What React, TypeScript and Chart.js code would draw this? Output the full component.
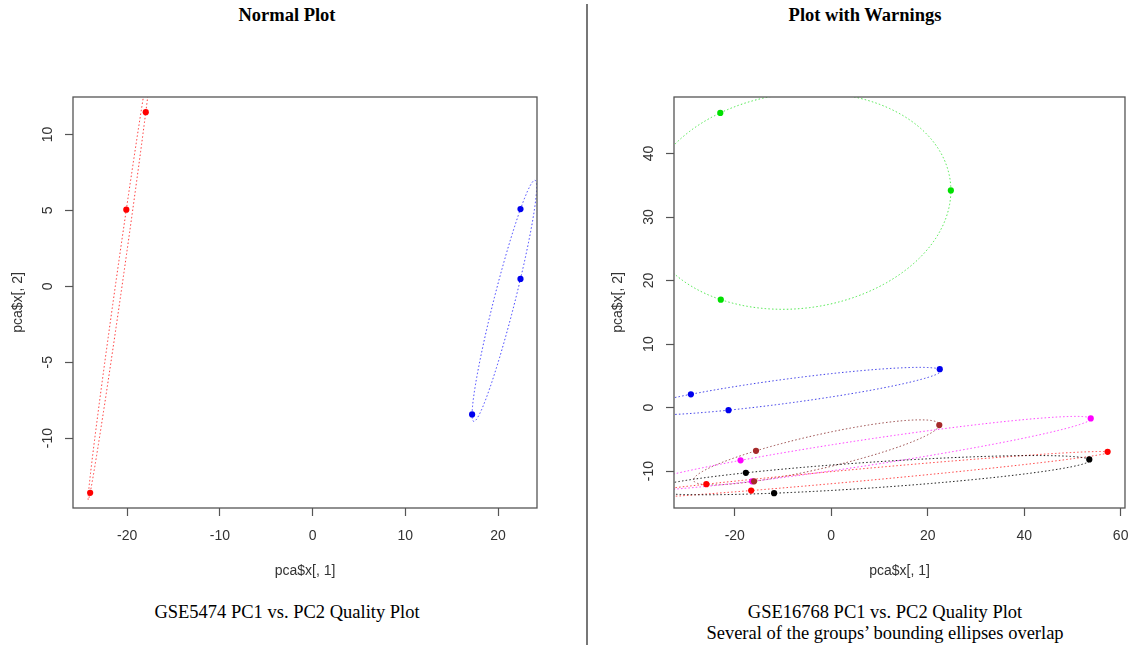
import React, { useEffect, useRef } from "react";
import { Chart, registerables } from "chart.js";

Chart.register(...registerables);

// ---------------- Left panel: GSE5474 ----------------
const leftRedPC1 = [-24.0, -20.1, -18.0];
const leftRedPC2 = [-13.6, 5.05, 11.47];
const leftBluePC1 = [17.2, 22.42, 22.42];
const leftBluePC2 = [-8.44, 5.09, 0.49];
const leftXTicks = [-20, -10, 0, 10, 20];
const leftYTicks = [-10, -5, 0, 5, 10];
const leftXRange = [-25.85, 24.2];
const leftYRange = [-14.6, 12.47];

// ---------------- Right panel: GSE16768 ----------------
const greenPC1 = [-23.0, 24.8, -22.9];
const greenPC2 = [46.4, 34.2, 17.0];
const bluePC1 = [-29.1, -21.3, 22.5];
const bluePC2 = [2.1, -0.4, 6.05];
const brownPC1 = [-15.6, 22.4, -16.0];
const brownPC2 = [-6.8, -2.74, -11.6];
const magentaPC1 = [-18.8, 53.8, -16.4];
const magentaPC2 = [-8.3, -1.7, -11.6];
const redPC1 = [-25.9, -16.6, 57.3];
const redPC2 = [-12.05, -13.05, -6.95];
const blackPC1 = [-17.7, -11.85, 53.5];
const blackPC2 = [-10.26, -13.47, -8.16];
const rightXTicks = [-20, 0, 20, 40, 60];
const rightYTicks = [-10, 0, 10, 20, 30, 40];
const rightXRange = [-32.6, 60.9];
const rightYRange = [-15.8, 48.9];

const xTitle = "pca$x[, 1]";
const yTitle = "pca$x[, 2]";

const SANS = "'Liberation Sans', Arial, Helvetica, sans-serif";
const SERIF = "'Liberation Serif', 'Times New Roman', Times, serif";

const pts = (xs: number[], ys: number[]) => xs.map((x, i) => ({ x, y: ys[i] }));

function ds(xs: number[], ys: number[], color: string, ellipseColor: string) {
  return {
    data: pts(xs, ys),
    pointRadius: 3.1,
    pointHoverRadius: 3.1,
    pointBackgroundColor: color,
    pointBorderColor: color,
    pointBorderWidth: 0,
    showLine: false,
    ellipseColor,
  } as any;
}

// Ellipse through each group's three points (circumscribed ellipse centred on the centroid)
const ellipsePlugin = {
  id: "groupEllipses",
  beforeDatasetsDraw(chart: any) {
    const { ctx, chartArea, scales } = chart;
    const xs = scales.x;
    const ys = scales.y;
    ctx.save();
    ctx.beginPath();
    ctx.rect(chartArea.left, chartArea.top, chartArea.right - chartArea.left, chartArea.bottom - chartArea.top);
    ctx.clip();
    chart.data.datasets.forEach((d: any) => {
      const p = d.data;
      if (!p || p.length < 3) return;
      const gx = (p[0].x + p[1].x + p[2].x) / 3;
      const gy = (p[0].y + p[1].y + p[2].y) / 3;
      const ux = p[0].x - gx;
      const uy = p[0].y - gy;
      const vx = (p[1].x - p[2].x) / Math.sqrt(3);
      const vy = (p[1].y - p[2].y) / Math.sqrt(3);
      ctx.beginPath();
      for (let i = 0; i <= 720; i++) {
        const t = (i / 720) * Math.PI * 2;
        const X = xs.getPixelForValue(gx + ux * Math.cos(t) + vx * Math.sin(t));
        const Y = ys.getPixelForValue(gy + uy * Math.cos(t) + vy * Math.sin(t));
        if (i === 0) ctx.moveTo(X, Y);
        else ctx.lineTo(X, Y);
      }
      ctx.closePath();
      ctx.setLineDash([1.5, 2.2]);
      ctx.lineWidth = 1;
      ctx.strokeStyle = d.ellipseColor;
      ctx.stroke();
    });
    ctx.restore();
  },
};

const boxPlugin = {
  id: "plotBox",
  afterDraw(chart: any) {
    const { ctx, chartArea } = chart;
    ctx.save();
    ctx.strokeStyle = "#555";
    ctx.lineWidth = 1.3;
    ctx.setLineDash([]);
    ctx.strokeRect(chartArea.left, chartArea.top, chartArea.right - chartArea.left, chartArea.bottom - chartArea.top);
    ctx.restore();
  },
};

interface PanelSpec {
  datasets: any[];
  xRange: number[];
  yRange: number[];
  xTicks: number[];
  yTicks: number[];
  canvasW: number;
  canvasH: number;
  areaLeft: number;
  areaRight: number;
  areaTop: number;
  areaBottom: number;
  yTitlePad: number;
}

function buildConfig(s: PanelSpec): any {
  const tickFont = { family: SANS, size: 14 };
  return {
    type: "scatter",
    data: { datasets: s.datasets },
    options: {
      responsive: false,
      animation: false,
      devicePixelRatio: 1,
      layout: {
        padding: { left: 0, top: s.areaTop, right: s.canvasW - s.areaRight, bottom: 0 },
      },
      plugins: { legend: { display: false }, tooltip: { enabled: false } },
      events: [],
      scales: {
        x: {
          type: "linear",
          position: "bottom",
          min: s.xRange[0],
          max: s.xRange[1],
          afterBuildTicks: (sc: any) => {
            sc.ticks = s.xTicks.map((v) => ({ value: v }));
          },
          afterFit: (sc: any) => {
            sc.height = s.canvasH - s.areaBottom;
          },
          border: { display: false },
          grid: {
            display: true,
            drawOnChartArea: false,
            drawTicks: true,
            tickLength: 8,
            tickColor: "#555",
            tickWidth: 1.2,
          },
          ticks: {
            autoSkip: false,
            maxRotation: 0,
            minRotation: 0,
            padding: 11.5,
            font: tickFont,
            color: "#333",
          },
          title: {
            display: true,
            text: xTitle,
            font: tickFont,
            color: "#333",
            padding: { top: 0, bottom: 20.6 },
          },
        },
        y: {
          type: "linear",
          position: "left",
          min: s.yRange[0],
          max: s.yRange[1],
          afterBuildTicks: (sc: any) => {
            sc.ticks = s.yTicks.map((v) => ({ value: v }));
          },
          afterFit: (sc: any) => {
            sc.width = s.areaLeft;
          },
          border: { display: false },
          grid: {
            display: true,
            drawOnChartArea: false,
            drawTicks: true,
            tickLength: 8,
            tickColor: "#555",
            tickWidth: 1.2,
          },
          ticks: {
            autoSkip: false,
            minRotation: 90,
            maxRotation: 90,
            crossAlign: "center",
            padding: 7,
            font: tickFont,
            color: "#333",
          },
          title: {
            display: true,
            text: yTitle,
            font: tickFont,
            color: "#333",
            padding: { top: s.yTitlePad, bottom: 0 },
          },
        },
      },
    },
    plugins: [ellipsePlugin, boxPlugin],
  };
}

const LEFT_CANVAS = { x: 0, w: 587, h: 600 };
const RIGHT_CANVAS = { x: 589, w: 551, h: 600 };

export default function App() {
  const leftRef = useRef<HTMLCanvasElement>(null);
  const rightRef = useRef<HTMLCanvasElement>(null);

  useEffect(() => {
    const left = new Chart(
      leftRef.current as HTMLCanvasElement,
      buildConfig({
        datasets: [
          ds(leftRedPC1, leftRedPC2, "#ff0000", "rgba(255,40,40,0.9)"),
          ds(leftBluePC1, leftBluePC2, "#0000ee", "rgba(40,40,255,0.9)"),
        ],
        xRange: leftXRange,
        yRange: leftYRange,
        xTicks: leftXTicks,
        yTicks: leftYTicks,
        canvasW: LEFT_CANVAS.w,
        canvasH: LEFT_CANVAS.h,
        areaLeft: 73,
        areaRight: 537,
        areaTop: 97,
        areaBottom: 508,
        yTitlePad: 9.6,
      })
    );
    const right = new Chart(
      rightRef.current as HTMLCanvasElement,
      buildConfig({
        datasets: [
          ds(greenPC1, greenPC2, "#00e000", "rgba(60,230,60,0.9)"),
          ds(bluePC1, bluePC2, "#0000ee", "rgba(40,40,230,0.9)"),
          ds(brownPC1, brownPC2, "#a52a2a", "rgba(140,50,50,0.9)"),
          ds(magentaPC1, magentaPC2, "#ff00ff", "rgba(255,40,255,0.9)"),
          ds(redPC1, redPC2, "#ff0000", "rgba(255,50,50,0.9)"),
          ds(blackPC1, blackPC2, "#000000", "rgba(0,0,0,0.9)"),
        ],
        xRange: rightXRange,
        yRange: rightYRange,
        xTicks: rightXTicks,
        yTicks: rightYTicks,
        canvasW: RIGHT_CANVAS.w,
        canvasH: RIGHT_CANVAS.h,
        areaLeft: 674 - RIGHT_CANVAS.x,
        areaRight: 1133 - RIGHT_CANVAS.x,
        areaTop: 97,
        areaBottom: 508,
        yTitlePad: 20.6,
      })
    );
    return () => {
      left.destroy();
      right.destroy();
    };
  }, []);

  const textBase: React.CSSProperties = {
    position: "absolute",
    fontFamily: SERIF,
    fontSize: "18.5px",
    lineHeight: "21px",
    color: "#000",
    textAlign: "center",
    whiteSpace: "nowrap",
    margin: 0,
  };

  return (
    <div
      style={{
        position: "absolute",
        left: 0,
        top: 0,
        width: 1140,
        height: 649,
        background: "#fff",
        overflow: "hidden",
      }}
    >
      <div style={{ ...textBase, left: 87, width: 400, top: 5, fontWeight: "bold" }}>Normal Plot</div>
      <div style={{ ...textBase, left: 665, width: 400, top: 5, fontWeight: "bold" }}>Plot with Warnings</div>

      <canvas
        ref={leftRef}
        width={LEFT_CANVAS.w}
        height={LEFT_CANVAS.h}
        style={{ position: "absolute", left: LEFT_CANVAS.x, top: 0, width: LEFT_CANVAS.w, height: LEFT_CANVAS.h }}
      />
      <canvas
        ref={rightRef}
        width={RIGHT_CANVAS.w}
        height={RIGHT_CANVAS.h}
        style={{ position: "absolute", left: RIGHT_CANVAS.x, top: 0, width: RIGHT_CANVAS.w, height: RIGHT_CANVAS.h }}
      />

      <div
        style={{
          position: "absolute",
          left: 586,
          top: 4,
          width: 1.5,
          height: 641,
          background: "#777",
        }}
      />

      <div style={{ ...textBase, left: 87, width: 400, top: 602 }}>GSE5474 PC1 vs. PC2 Quality Plot</div>
      <div style={{ ...textBase, left: 635, width: 500, top: 602 }}>
        GSE16768 PC1 vs. PC2 Quality Plot
        <br />
        Several of the groups’ bounding ellipses overlap
      </div>
    </div>
  );
}
